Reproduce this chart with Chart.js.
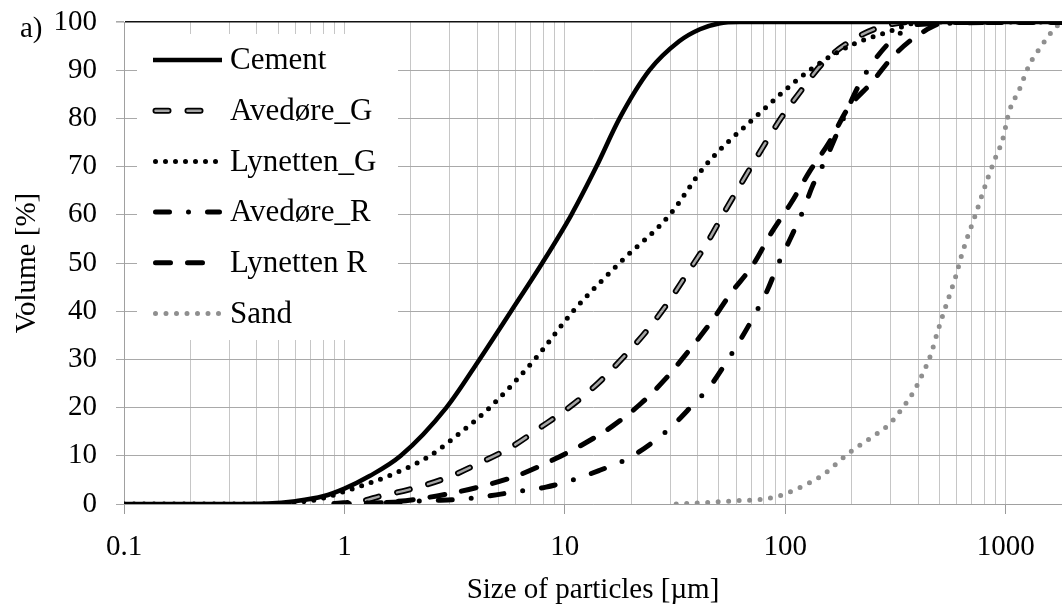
<!DOCTYPE html>
<html>
<head>
<meta charset="utf-8">
<script src="https://cdn.jsdelivr.net/npm/chart.js@4/dist/chart.umd.min.js"></script>
<style>
  html, body { margin: 0; padding: 0; background: #fff; }
  #psdChart { display: block; }
</style>
</head>
<body>
<canvas id="psdChart" width="1062" height="604"></canvas>
<script>
'use strict';

// Particle size (µm) and cumulative volume (%) per material
const CEMENT_SIZE = [0.1, 0.3, 0.45, 0.6, 0.8, 1, 1.3, 1.8, 2.9, 4.1, 5.7, 7.9, 10.7, 13.9, 17.7, 24.2, 33, 41, 50, 62, 1800];
const CEMENT_VOL  = [0, 0, 0.1, 0.6, 1.6, 3.2, 5.8, 10, 20, 30, 40, 50, 60, 70, 80, 90, 96, 98.5, 99.7, 100, 100];

const AVEDORE_G_SIZE = [0.9, 1.2, 1.45, 2.0, 2.9, 4.1, 5.7, 7.7, 10.5, 14.1, 18.3, 23.4, 29.3, 36.1, 44.6, 53.6, 64.6, 78.3, 95.8, 119, 148, 202, 277, 380, 1800];
const AVEDORE_G_VOL  = [0, 0.6, 1.6, 3.1, 5.4, 8.5, 11.8, 15.8, 20.1, 25, 30.3, 35.8, 41.7, 48, 54.5, 61, 67.3, 73.7, 80.1, 86, 91.5, 96.3, 99.1, 100, 100];

const LYNETTEN_G_SIZE = [0.1, 0.4, 0.6, 0.8, 1, 1.6, 2.44, 3.4, 4.56, 7.3, 10.9, 17.7, 29.9, 43, 72, 129, 195, 295, 420, 1800];
const LYNETTEN_G_VOL  = [0, 0, 0.3, 1.2, 2.6, 5.9, 10, 15, 20, 30, 40, 50, 60, 70, 80, 90, 95, 98, 100, 100];

const AVEDORE_R_SIZE = [0.9, 1.5, 2.44, 3.45, 4.56, 6.1, 8.2, 10.9, 14.4, 18.9, 24.2, 30.4, 37.4, 45.7, 54, 63, 73.3, 83.4, 92.5, 106, 120, 133, 151, 192, 218, 256, 313, 400, 1800];
const AVEDORE_R_VOL  = [0, 0.3, 0.7, 1.0, 1.7, 2.6, 3.5, 5, 7, 9.2, 12.3, 16, 20.2, 24.5, 29.4, 34.3, 39.6, 44.6, 49.6, 55.3, 60.7, 66, 71.1, 82, 87.3, 92.3, 96.7, 99.5, 100];

const LYNETTEN_R_SIZE = [0.9, 1.5, 2.05, 2.95, 4.3, 6.1, 8.7, 12, 16.5, 22.2, 28.8, 36.8, 46.3, 56.8, 71.3, 86.3, 106, 129, 159, 192, 245, 313, 413, 550, 1800];
const LYNETTEN_R_VOL  = [0, 0.3, 0.9, 2.1, 3.8, 5.9, 9, 12.3, 16.2, 20.9, 26.1, 32, 37.9, 43.8, 49.6, 56.2, 62.4, 69, 75.2, 82, 87.3, 93.2, 97.7, 100, 100];

const SAND_SIZE = [32, 44, 61, 80, 92.5, 102.6, 124, 151, 192, 249, 297, 339, 382, 420, 458, 486, 517, 555, 595, 627, 672, 720, 773, 828, 894, 968, 1038, 1153, 1279, 1445, 1660, 1800];
const SAND_VOL  = [0, 0.3, 0.7, 1.0, 1.6, 2.3, 4, 6.3, 10.4, 14, 16.6, 19.8, 23.3, 27, 31.1, 35.1, 39, 43.2, 47.4, 51.2, 55.5, 59.3, 63.5, 67.5, 71.6, 75.6, 81.5, 86, 91.1, 94.9, 98.6, 100];

const X_MIN = 0.1;
const X_MAX = 1800;
const Y_TICKS = [0, 10, 20, 30, 40, 50, 60, 70, 80, 90, 100];

const SERIF = "'Liberation Serif', 'Times New Roman', serif";
const GRID_V = '#c6c6c6';
const GRID_H = '#a9a9a9';

const toPoints = (sizes, vols) => sizes.map((s, i) => ({ x: s, y: vols[i] }));

// legend entries, styles match the datasets below
const LEGEND = [
    { label: 'Cement',     color: '#000', width: 4.5, dash: [],              cap: 'butt' },
    { label: 'Avedøre_G',  color: '#a6a6a6', width: 2.5, dash: [13, 19],     cap: 'round', outline: 6 },
    { label: 'Lynetten_G', color: '#000', width: 5,   dash: [0, 10],         cap: 'round' },
    { label: 'Avedøre_R',  color: '#000', width: 5,   dash: [14, 19, 0, 19], cap: 'round' },
    { label: 'Lynetten R', color: '#000', width: 5,   dash: [15, 17],        cap: 'round' },
    { label: 'Sand',       color: '#8f8f8f', width: 5, dash: [0, 10.5],      cap: 'round' }
];

const lineSet = (label, data, st, order) => ({
    label: label,
    data: data,
    borderColor: st.color,
    borderWidth: st.width,
    borderDash: st.dash,
    borderCapStyle: st.cap,
    borderJoinStyle: 'round',
    cubicInterpolationMode: 'monotone',
    pointRadius: 0,
    fill: false,
    order: order
});

let legendPlugin = {
    id: 'boxLegend',
    afterDraw: (chart) => {
        const ctx = chart.ctx;
        ctx.save();
        // white box that hides the grid behind the legend
        ctx.fillStyle = '#fff';
        ctx.fillRect(137, 34, 261, 306);
        ctx.font = '31px ' + SERIF;
        ctx.textBaseline = 'middle';
        ctx.textAlign = 'left';
        LEGEND.forEach((it, i) => {
            const y = 60 + i * 50.7;
            const x0 = it.cap === 'round' ? 155.5 : 153;
            const x1 = it.cap === 'round' ? 219.5 : 222;
            if (it.outline) {
                ctx.strokeStyle = '#000';
                ctx.lineWidth = it.outline;
                ctx.lineCap = it.cap;
                ctx.setLineDash(it.dash);
                ctx.beginPath(); ctx.moveTo(x0, y); ctx.lineTo(x1, y); ctx.stroke();
            }
            ctx.strokeStyle = it.color;
            ctx.lineWidth = it.width;
            ctx.lineCap = it.cap;
            ctx.setLineDash(it.dash);
            ctx.beginPath(); ctx.moveTo(x0, y); ctx.lineTo(x1, y); ctx.stroke();
            ctx.setLineDash([]);
            ctx.fillStyle = '#000';
            ctx.fillText(it.label, 230, y + 1);
        });
        // panel tag
        ctx.font = '29px ' + SERIF;
        ctx.textBaseline = 'alphabetic';
        ctx.fillText('a)', 20, 37);
        ctx.restore();
    }
};

let isDecade = (v) => Math.abs(Math.log10(v) - Math.round(Math.log10(v))) < 1e-9;

let drawChart = () => {
    const el = document.getElementById('psdChart');
    const agStyle = LEGEND[1];
    const datasets = [
        lineSet('Cement', toPoints(CEMENT_SIZE, CEMENT_VOL), LEGEND[0], 0),
        lineSet('Avedøre_G', toPoints(AVEDORE_G_SIZE, AVEDORE_G_VOL), agStyle, 4),
        // black outline under the grey dashes of Avedøre_G
        lineSet('Avedøre_G outline', toPoints(AVEDORE_G_SIZE, AVEDORE_G_VOL),
            { color: '#000', width: agStyle.outline, dash: agStyle.dash, cap: 'round' }, 5),
        lineSet('Lynetten_G', toPoints(LYNETTEN_G_SIZE, LYNETTEN_G_VOL), LEGEND[2], 3),
        lineSet('Avedøre_R', toPoints(AVEDORE_R_SIZE, AVEDORE_R_VOL), LEGEND[3], 2),
        lineSet('Lynetten R', toPoints(LYNETTEN_R_SIZE, LYNETTEN_R_VOL), LEGEND[4], 1),
        lineSet('Sand', toPoints(SAND_SIZE, SAND_VOL), LEGEND[5], 6)
    ];

    new Chart(el, {
        type: 'line',
        data: { datasets: datasets },
        options: {
            responsive: false,
            animation: false,
            devicePixelRatio: 1,
            layout: { padding: { top: 22, right: 0, left: 0, bottom: 0 } },
            plugins: {
                legend: { display: false },
                tooltip: { enabled: false }
            },
            scales: {
                x: {
                    type: 'logarithmic',
                    min: X_MIN,
                    max: X_MAX,
                    afterBuildTicks: (scale) => {
                        const ticks = [];
                        for (let d = X_MIN; d < X_MAX; d *= 10) {
                            const dec = Math.pow(10, Math.round(Math.log10(d)));
                            for (let m = 1; m <= 9; m++) {
                                if (m * dec <= X_MAX) ticks.push({ value: m * dec, major: m === 1 });
                            }
                        }
                        scale.ticks = ticks;
                    },
                    afterFit: (scale) => {
                        scale.height = 100;
                        scale.paddingLeft = 0;
                        scale.paddingRight = 0;
                    },
                    ticks: {
                        autoSkip: false,
                        maxRotation: 0,
                        padding: 16,
                        color: '#000',
                        font: { family: SERIF, size: 29 },
                        callback: (v) => isDecade(v) ? String(v) : ''
                    },
                    grid: {
                        color: GRID_V,
                        lineWidth: 1,
                        tickLength: 10,
                        tickColor: (c) => (c.tick && isDecade(c.tick.value)) ? '#9a9a9a' : 'rgba(0,0,0,0)'
                    },
                    border: { color: '#a0a0a0' },
                    title: {
                        display: true,
                        text: 'Size of particles [µm]',
                        color: '#000',
                        font: { family: SERIF, size: 29 },
                        padding: { top: 0, bottom: -4 }
                    }
                },
                y: {
                    min: 0,
                    max: 100,
                    afterBuildTicks: (scale) => {
                        scale.ticks = Y_TICKS.map(v => ({ value: v }));
                    },
                    afterFit: (scale) => {
                        scale.width = 124;
                        scale.paddingTop = 0;
                        scale.paddingBottom = 0;
                    },
                    ticks: {
                        padding: 19,
                        color: '#000',
                        font: { family: SERIF, size: 29 }
                    },
                    grid: {
                        color: (c) => (c.tick && c.tick.value === 100) ? '#111' : GRID_H,
                        lineWidth: (c) => (c.tick && c.tick.value === 100) ? 1.6 : 1,
                        tickLength: 8,
                        tickColor: GRID_H
                    },
                    border: { color: '#a0a0a0' },
                    title: {
                        display: true,
                        text: 'Volume [%]',
                        color: '#000',
                        font: { family: SERIF, size: 29 },
                        padding: { top: 10, bottom: 0 }
                    }
                }
            }
        },
        plugins: [legendPlugin]
    });
};

window.onload = () => {
    drawChart();
};
</script>
</body>
</html>
